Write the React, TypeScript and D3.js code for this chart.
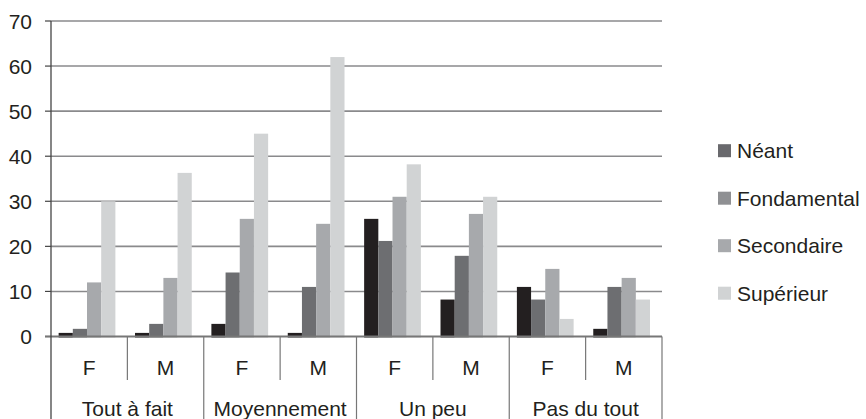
import React from "react";
import * as d3 from "d3";

const groups = ["Tout à fait", "Moyennement", "Un peu", "Pas du tout"];
const sexes = ["F", "M"];
const series = ["Néant", "Fondamental", "Secondaire", "Supérieur"];
const barColors = ["#231f20", "#6d6e71", "#a7a9ac", "#d1d3d4"];
const legendColors = ["#69696d", "#8f9093", "#a7a9ac", "#d1d3d4"];
// values per category (group × sex), in series order
const neant = [0.8, 0.8, 2.8, 0.8, 26.1, 8.2, 11.0, 1.7];
const fondamental = [1.7, 2.8, 14.2, 11.0, 21.2, 17.9, 8.2, 11.0];
const secondaire = [12.0, 13.0, 26.1, 25.0, 31.0, 27.2, 15.0, 13.0];
const superieur = [30.0, 36.3, 45.0, 62.0, 38.2, 31.0, 3.9, 8.2];
const yTicks = [0, 10, 20, 30, 40, 50, 60, 70];

const W = 866, H = 419;
const X0 = 51, X1 = 662, Y0 = 336.5, Y1 = 21;
const FONT = "'Liberation Sans', Arial, Helvetica, sans-serif";

export default function App() {
  const values = [neant, fondamental, secondaire, superieur];
  const cats = groups.flatMap((g) => sexes.map((s) => `${g}|${s}`));
  const x = d3.scaleBand<string>().domain(cats).range([X0, X1]).padding(0);
  const bw = x.bandwidth();
  const xs = d3.scaleBand<string>().domain(series).range([bw * 0.1, bw * 0.843]).padding(0);
  const y = d3.scaleLinear().domain([0, 70]).range([Y0, Y1]);
  const gw = bw * 2;

  return (
    <svg width={W} height={H} style={{ position: "absolute", left: 0, top: 0 }} fontFamily={FONT}>
      <rect width={W} height={H} fill="#fff" />
      {yTicks.map((t) => (
        <g key={t}>
          {t > 0 && <line x1={X0} x2={X1} y1={y(t)} y2={y(t)} stroke="#8a8a8c" strokeWidth={1.6} />}
          <line x1={X0 - 6} x2={X0} y1={y(t)} y2={y(t)} stroke="#444" strokeWidth={1.2} />
          <text x={32} y={y(t)} textAnchor="end" dominantBaseline="central" fontSize={21} fill="#231f20">{t}</text>
        </g>
      ))}
      {cats.map((c, ci) =>
        series.map((s, si) => {
          const v = values[si][ci];
          return (
            <rect key={c + s} x={(x(c) as number) + (xs(s) as number)} y={y(v)} width={xs.bandwidth()} height={Y0 + 1 - y(v)} fill={barColors[si]} />
          );
        })
      )}
      <line x1={X0 - 6} x2={X1} y1={Y0} y2={Y0} stroke="#777" strokeWidth={1.8} />
      <line x1={X0} x2={X0} y1={Y1} y2={H} stroke="#444" strokeWidth={1.3} />
      {cats.map((c, ci) => {
        const xr = (x(c) as number) + bw;
        const isGroupEnd = ci % 2 === 1;
        return (
          <line key={"sep" + c} x1={xr} x2={xr} y1={Y0} y2={isGroupEnd ? H : 380} stroke="#777" strokeWidth={1.2} />
        );
      })}
      {cats.map((c) => (
        <text key={"lab" + c} x={(x(c) as number) + bw / 2} y={367} textAnchor="middle" dominantBaseline="central" fontSize={21} fill="#231f20">
          {c.split("|")[1]}
        </text>
      ))}
      {groups.map((g, gi) => (
        <text key={g} x={X0 + gw * gi + gw / 2} y={416} textAnchor="middle" fontSize={21} fill="#231f20">
          {g}
        </text>
      ))}
      {series.map((s, si) => {
        const cy = 150.7 + si * 47.5;
        return (
          <g key={s}>
            <rect x={718} y={cy - 6.5} width={13} height={13} fill={legendColors[si]} />
            <text x={737} y={cy} dominantBaseline="central" fontSize={21} fill="#231f20">{s}</text>
          </g>
        );
      })}
    </svg>
  );
}
